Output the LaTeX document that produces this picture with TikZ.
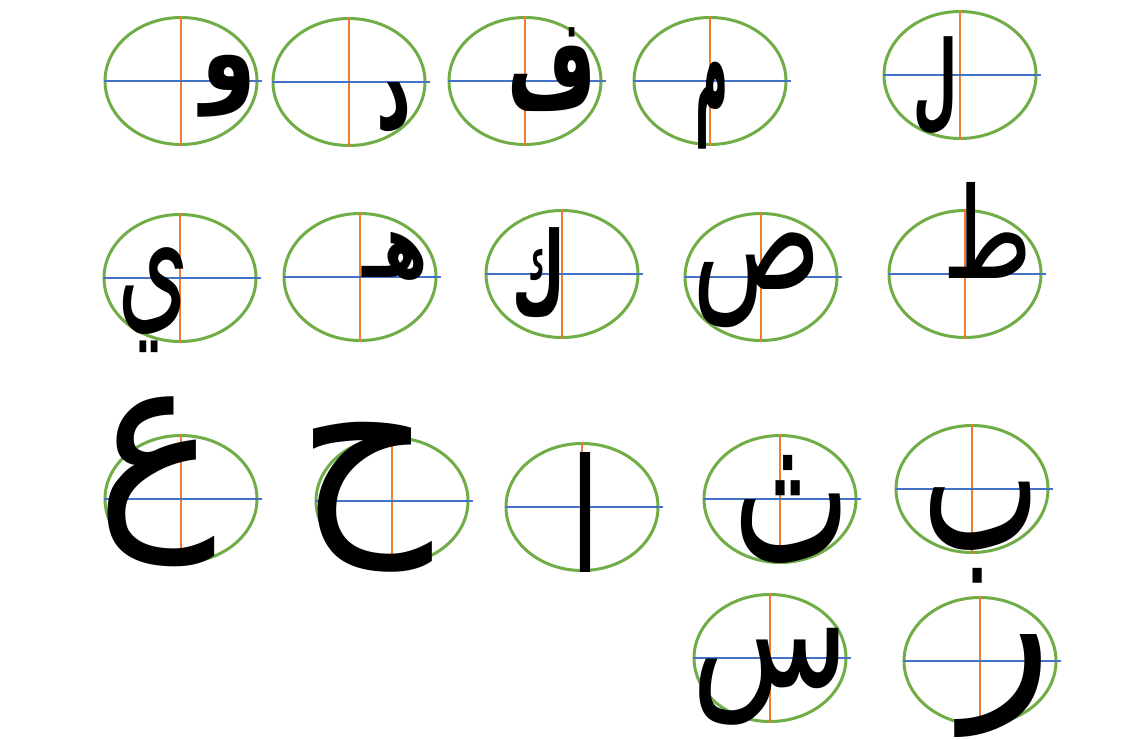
\documentclass[tikz,border=0pt]{standalone}
\usepackage{fontspec}
\usepackage{graphicx}
\usetikzlibrary{shapes.geometric,calc}
\TeXXeTstate=1
\newfontfamily\arabicfont[Script=Arabic]{DejaVu Sans}
\definecolor{egreen}{HTML}{70AD47}
\definecolor{eorange}{HTML}{ED7D31}
\definecolor{eblue}{HTML}{4472C4}
\tikzset{
  ell/.style={ellipse, draw=egreen, line width=3pt, minimum width=152pt, minimum height=127pt, inner sep=0pt},
  vaxis/.style={draw=eorange, line width=1.8pt},
  haxis/.style={draw=eblue, line width=1.8pt},
  letter/.style={inner sep=0pt, outer sep=0pt, text=black}
}
\newcommand\markcell[3]{%
  \node[ell] (#1) at (#2,#3) {};
  \draw[vaxis] (#1.north) -- (#1.south);
  \draw[haxis] (#1.west) -- ($(#1.east)+(3,0)$);
}
% bold letter
\newcommand\arl[6]{%
  \node[letter] (#1) at (#2,#3) {\resizebox*{#4pt}{#5pt}{\arabicfont\bfseries\beginR #6\endR}};
}
% regular-weight letter (large ones)
\newcommand\arm[6]{%
  \node[letter] (#1) at (#2,#3) {\resizebox*{#4pt}{#5pt}{\arabicfont\beginR #6\endR}};
}
\begin{document}
\begin{tikzpicture}[x=1pt,y=-1pt]
\useasboundingbox[fill=white] (0,0) rectangle (1142,739);
% row 1
\markcell{c1}{181}{81}
\markcell{c2}{349}{82}
\markcell{c3}{525}{81}
\markcell{c4}{710}{81}
\markcell{c5}{960}{75}
% row 2
\markcell{c6}{180}{278}
\markcell{c7}{360}{277}
\markcell{c8}{562}{274}
\markcell{c9}{761}{277}
\markcell{c10}{965}{274}
% row 3
\markcell{c11}{181}{499}
\markcell{c12}{392}{501}
\markcell{c13}{582}{507}
\markcell{c14}{780}{499}
\markcell{c15}{972}{489}
% row 4
\markcell{c16}{770}{658}
\markcell{c17}{980}{661}
% letters
\arl{l1}{229.5}{86}{55}{62}{و}
\arl{l2}{394.5}{108}{35}{50}{د}
\arl{l3}{552.5}{70}{89}{84}{ف}
\arl{l4}{711.5}{105.5}{33}{87}{م}
\arl{l5}{935}{86.5}{44}{99}{ل}
\arm{l6}{154}{300.5}{72}{105}{ي}
\arl{l7}{395}{256}{66}{48}{هـ}
\arl{l8}{538.5}{273}{53}{90}{ك}
\arm{l9}{757.5}{280.5}{129}{95}{ص}
\arm{l10}{988}{230}{90}{96}{ط}
\arm{l11}{157}{482}{120}{170}{ع}
\arm{l12}{365.5}{497}{135}{150}{ح}
\arl{l13}{585}{512}{20}{120}{ا}
\arm{l14}{791.5}{509}{117}{108}{ث}
\arm{l15}{981}{532.5}{118}{101}{ب}
\arm{l16}{771}{676.5}{158}{97}{س}
\arm{l17}{1007}{686.5}{90}{103}{ر}
\end{tikzpicture}
\end{document}
